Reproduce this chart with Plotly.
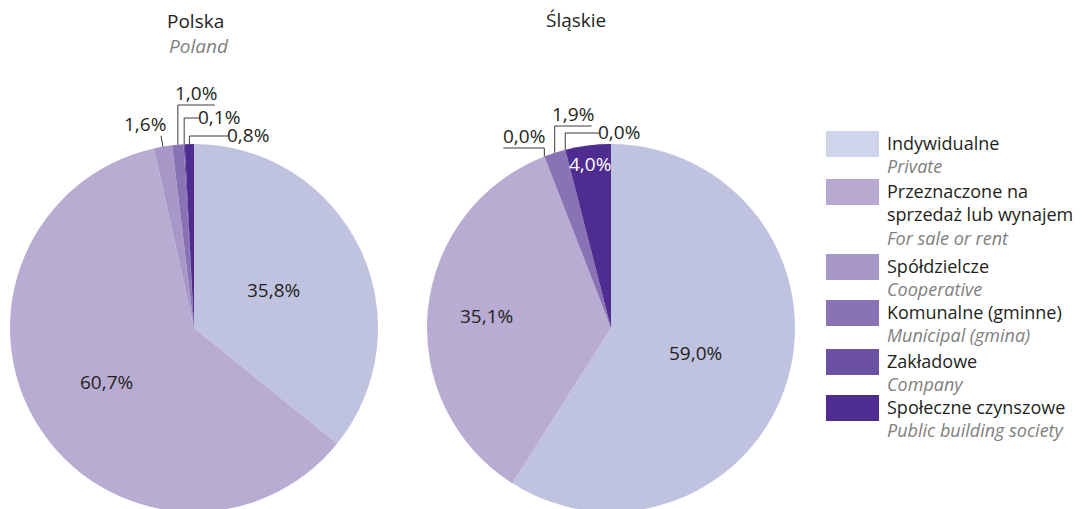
import math
import plotly.graph_objects as go

# ---------------- data ----------------
categories_pl = ["Indywidualne", "Przeznaczone na sprzedaż lub wynajem", "Spółdzielcze",
                 "Komunalne (gminne)", "Zakładowe", "Społeczne czynszowe"]
legend_lines_pl = [["Indywidualne"], ["Przeznaczone na", "sprzedaż lub wynajem"], ["Spółdzielcze"],
                   ["Komunalne (gminne)"], ["Zakładowe"], ["Społeczne czynszowe"]]
categories_en = ["Private", "For sale or rent", "Cooperative", "Municipal (gmina)",
                 "Company", "Public building society"]
polska_values = [35.8, 60.7, 1.6, 1.0, 0.1, 0.8]
slaskie_values = [59.0, 35.1, 0.0, 1.9, 0.0, 4.0]
pie_titles = ["Polska", "Śląskie"]
pie_subtitles = ["Poland", ""]

# ---------------- style ----------------
OFF = 8                      # page body margin
WF, HF = 1088, 520           # figure size
FONT = "Open Sans"
TXT = "#231f20"
GREY = "#808080"
slice_colors = ["#c0c3df", "#b8acd3", "#a898c8", "#8a73b5", "#6c50a3", "#4e2c90"]
legend_colors = ["#d0d4ea", "#b7a9d0", "#a898c8", "#8a73b5", "#6c50a3", "#4e2c90"]
R = 184
centers = [(194, 328), (611, 328)]
# inside labels: (pie, slice, radial fraction, colour)
inside_labels = [
    (0, 0, 0.48, TXT), (0, 1, 0.56, TXT),
    (1, 0, 0.48, TXT), (1, 1, 0.68, TXT), (1, 5, 0.90, "white"),
]
title_pos = [(195, 21), (576, 20)]
subtitle_pos = [(199, 46), None]
# outside labels: (pie, slice, kind, elbow_y, horiz_len)
outside_labels = [
    (0, 2, "radial", None, None),
    (0, 3, "above", 105, 37),
    (0, 4, "end", 118, 15),
    (0, 5, "end", 136, 39),
    (1, 2, "above", 148, -41),
    (1, 3, "above", 126, 37),
    (1, 4, "end", 133, 34),
]
legend_tops = [131, 179, 254, 300, 349, 395]
SW_X0, SW_X1, SW_H = 826, 879, 26
LEG_TX = 886
FS = 19
LEG_FS = 18


def fx(x):
    return (x - OFF) / WF


def fy(y):
    return 1 - (y - OFF) / HF


def fmt(v):
    return f"{v:.1f}".replace(".", ",") + "%"


def slice_mid(p, s):
    vals = all_values[p]
    total = sum(vals)
    cum = sum(vals[:s])
    return (cum + vals[s] / 2) / total * 2 * math.pi


fig = go.Figure()
all_values = [polska_values, slaskie_values]
for i, vals in enumerate(all_values):
    cx, cy = centers[i]
    fig.add_trace(go.Pie(
        labels=categories_pl,
        values=vals,
        text=[fmt(v) for v in vals],
        textinfo="none",
        marker=dict(colors=slice_colors, line=dict(width=0)),
        sort=False,
        direction="clockwise",
        rotation=0,
        hole=0,
        showlegend=False,
        hoverinfo="label+text",
        domain=dict(x=[fx(cx - R), fx(cx + R)], y=[fy(cy + R), fy(cy - R)]),
    ))

annotations = []
shapes = []


def add_text(x, y, text, color=TXT, xanchor="center", yanchor="middle", size=FS):
    annotations.append(dict(x=fx(x), y=fy(y), xref="paper", yref="paper", text=text,
                            showarrow=False, font=dict(family=FONT, size=size, color=color),
                            xanchor=xanchor, yanchor=yanchor, align="left", borderpad=0))


# titles
for i in range(2):
    tx, ty = title_pos[i]
    add_text(tx, ty, pie_titles[i])
    if subtitle_pos[i]:
        sx, sy = subtitle_pos[i]
        add_text(sx, sy, f"<i>{pie_subtitles[i]}</i>", GREY)

# inside labels
for (p, s, rf, col) in inside_labels:
    mid = slice_mid(p, s)
    cx, cy = centers[p]
    add_text(cx + rf * R * math.sin(mid), cy - rf * R * math.cos(mid), fmt(all_values[p][s]), col)

# outside labels with leader lines (anchor points derived from slice angles)
line_style = dict(color="#3a3a3a", width=1)
for (p, s, kind, ey, hl) in outside_labels:
    mid = slice_mid(p, s)
    cx, cy = centers[p]
    ax = cx + R * math.sin(mid)
    ay = cy - R * math.cos(mid)
    label = fmt(all_values[p][s])
    if kind == "radial":
        ex = cx + (R + 11) * math.sin(mid)
        ey2 = cy - (R + 11) * math.cos(mid)
        shapes.append(dict(type="line", xref="paper", yref="paper", x0=fx(ax), y0=fy(ay),
                           x1=fx(ex), y1=fy(ey2), line=line_style))
        add_text(ex - 16, ey2 - 12, label)
    else:
        shapes.append(dict(type="line", xref="paper", yref="paper", x0=fx(ax), y0=fy(ay),
                           x1=fx(ax), y1=fy(ey), line=line_style))
        shapes.append(dict(type="line", xref="paper", yref="paper", x0=fx(ax), y0=fy(ey),
                           x1=fx(ax + hl), y1=fy(ey), line=line_style))
        if kind == "above":
            add_text(ax + hl / 2, ey - 12, label)
        else:
            add_text(ax + hl - 2, ey - 1, label, xanchor="left")

# custom legend
for k in range(len(categories_pl)):
    top = legend_tops[k]
    shapes.append(dict(type="rect", xref="paper", yref="paper", x0=fx(SW_X0), x1=fx(SW_X1),
                       y0=fy(top + SW_H), y1=fy(top), fillcolor=legend_colors[k],
                       line=dict(width=0)))
    body = "<br>".join(legend_lines_pl[k])
    body += f'<br><span style="color:{GREY}"><i>{categories_en[k]}</i></span>'
    add_text(LEG_TX, top - 1, body, TXT, xanchor="left", yanchor="top", size=LEG_FS)

fig.update_layout(
    width=WF, height=HF,
    margin=dict(l=0, r=0, t=0, b=0),
    paper_bgcolor="white", plot_bgcolor="white",
    font=dict(family=FONT, size=FS, color=TXT),
    annotations=annotations,
    shapes=shapes,
)

fig.write_html("out.html")
